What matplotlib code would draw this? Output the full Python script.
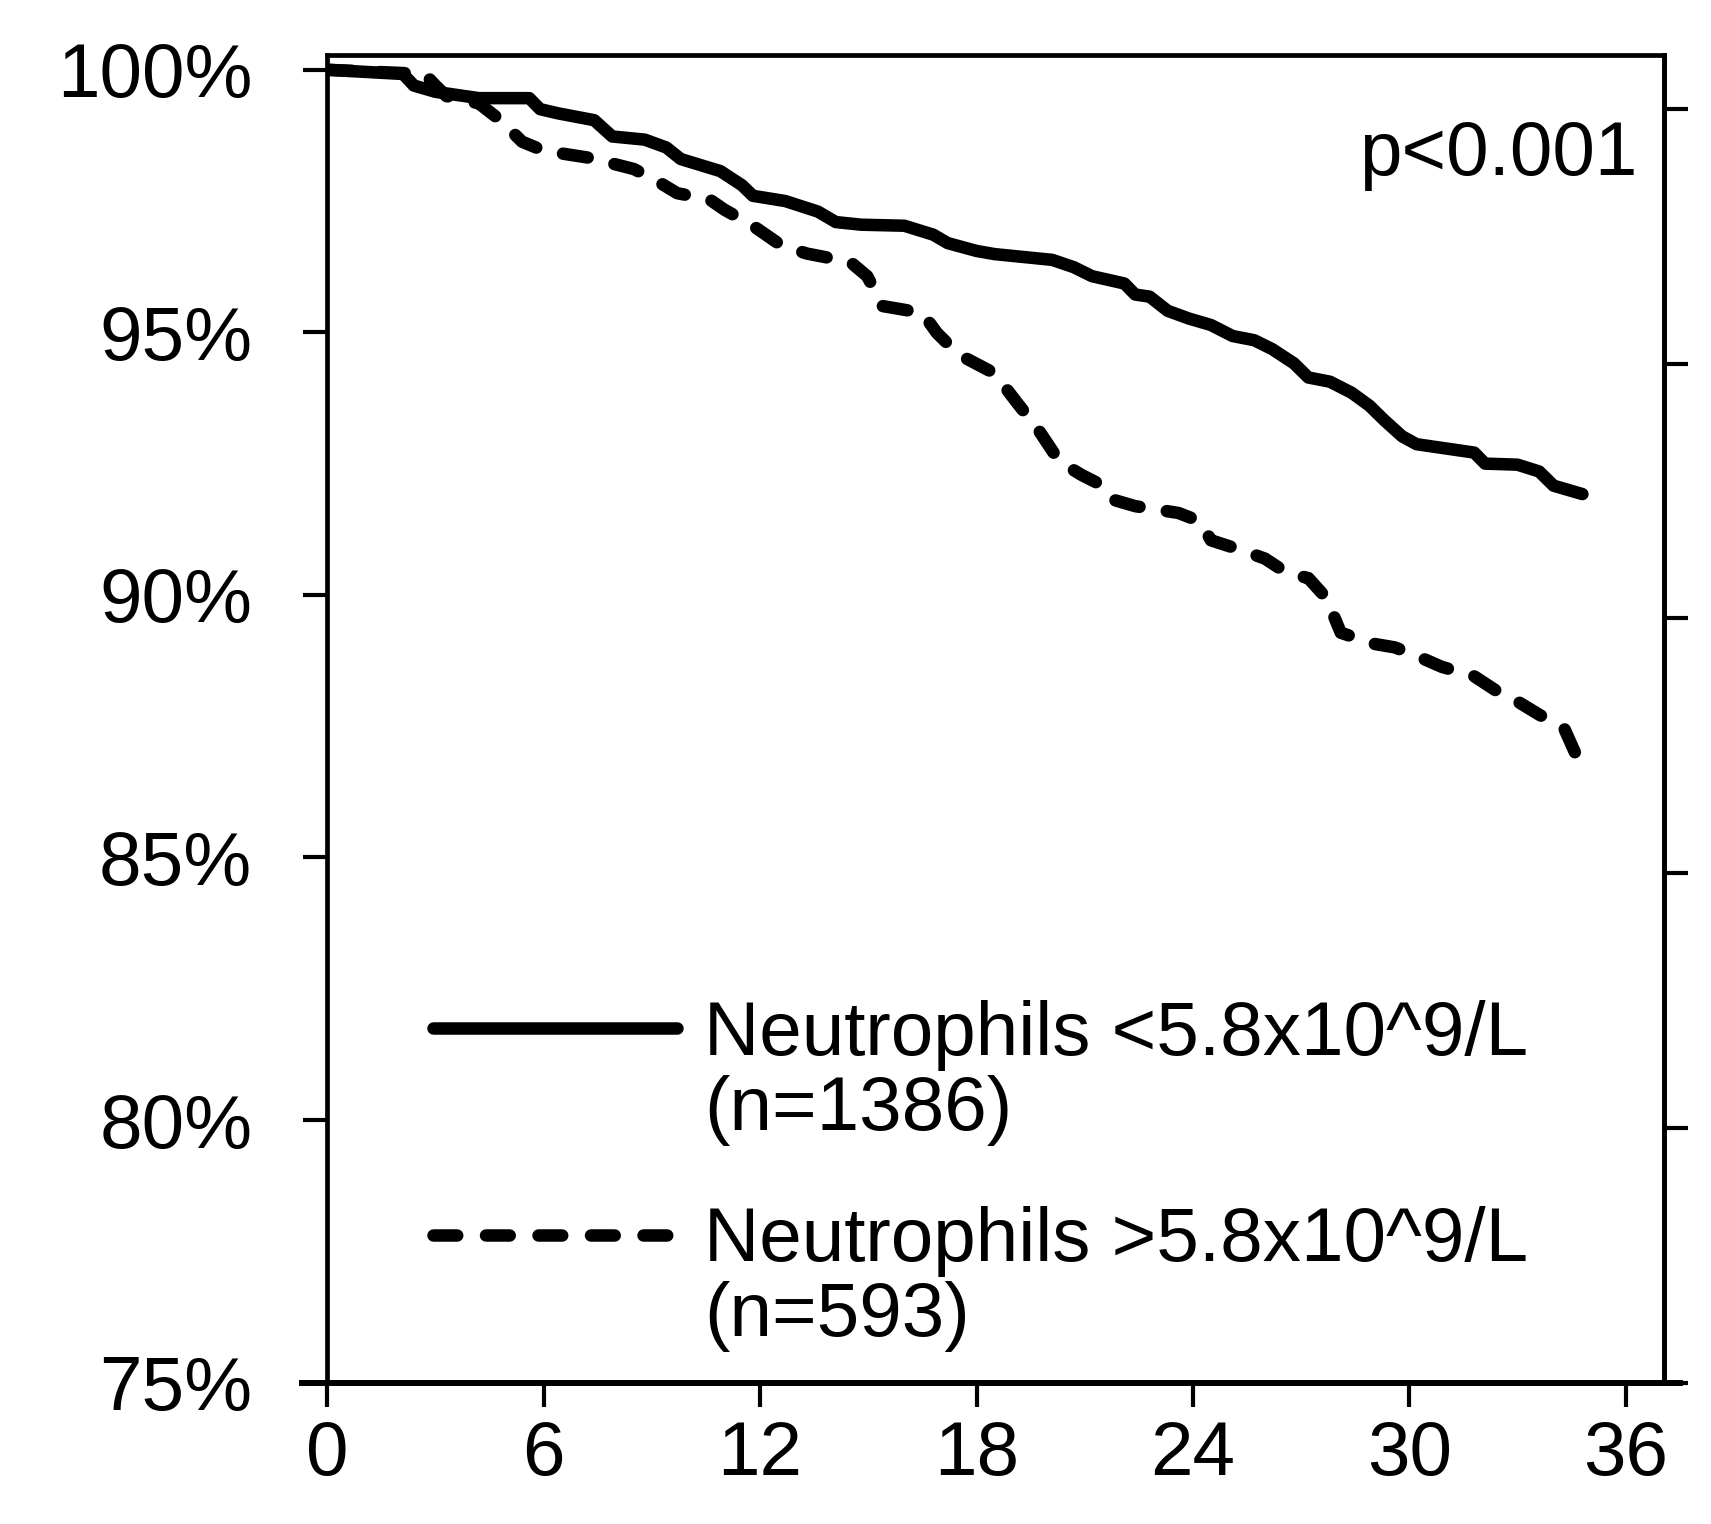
import matplotlib
matplotlib.use("Agg")
import matplotlib.pyplot as plt
from matplotlib.lines import Line2D

# survival curves (months, % event free)
months_low = [0, 2.1, 2.4, 3.0, 4.2, 5.6, 5.9, 6.4, 7.4, 7.9, 8.8, 9.4, 9.8, 10.9, 11.5, 11.8,
              12.7, 13.6, 14.1, 14.8, 16.0, 16.8, 17.2, 18.0, 18.5, 20.1, 20.7, 21.2, 22.1,
              22.4, 22.8, 23.3, 23.9, 24.5, 25.1, 25.7, 26.2, 26.8, 27.2, 27.8, 28.4, 28.9,
              29.3, 29.8, 30.2, 31.2, 31.8, 32.1, 33.0, 33.6, 34.0, 34.8]
surv_low = [100, 99.92, 99.7, 99.58, 99.46, 99.46, 99.25, 99.17, 99.04, 98.73, 98.67, 98.52,
            98.3, 98.07, 97.8, 97.6, 97.5, 97.3, 97.1, 97.05, 97.03, 96.86, 96.7, 96.55, 96.49,
            96.38, 96.24, 96.07, 95.93, 95.72, 95.68, 95.41, 95.26, 95.14, 94.93, 94.85, 94.68,
            94.41, 94.14, 94.06, 93.85, 93.6, 93.33, 93.02, 92.87, 92.77, 92.71, 92.5, 92.48,
            92.35, 92.08, 91.92]

months_high = [0, 2.7, 3.0, 3.3, 4.2, 4.8, 5.4, 6.0, 7.3, 8.5, 9.1, 9.7, 10.6, 11.0, 11.8,
               12.6, 13.3, 14.5, 14.97, 15.4, 16.5, 16.9, 17.5, 18.5, 19.1, 19.7, 20.3, 20.9,
               21.5, 21.8, 22.4, 23.6, 24.2, 24.5, 25.4, 26.0, 26.6, 27.2, 27.7, 28.1, 29.0,
               29.6, 30.2, 30.9, 31.8, 32.4, 33.0, 33.6, 34.3, 34.8]
surv_high = [100, 99.92, 99.7, 99.5, 99.36, 99.04, 98.63, 98.46, 98.32, 98.11, 97.9, 97.65,
             97.53, 97.34, 97.03, 96.65, 96.5, 96.34, 96.07, 95.5, 95.37, 94.99, 94.58, 94.22,
             93.68, 93.16, 92.54, 92.29, 92.08, 91.81, 91.69, 91.56, 91.4, 91.04, 90.84, 90.69,
             90.42, 90.32, 89.94, 89.28, 89.07, 89.0, 88.84, 88.63, 88.45, 88.18, 87.97, 87.72,
             87.45, 86.68]

x_ticks = [0, 6, 12, 18, 24, 30, 36]
y_ticks = [75, 80, 85, 90, 95, 100]
labels_low = ["Neutrophils <5.8x10^9/L", "(n=1386)"]
labels_high = ["Neutrophils >5.8x10^9/L", "(n=593)"]
p_text = "p<0.001"

plt.rcParams['font.family'] = ['Liberation Sans', 'DejaVu Sans']
fs = 55

fig = plt.figure(figsize=(17.11, 15.24), dpi=100)
ax = fig.add_axes([0.1913, 0.0928, 0.7812, 0.8714])

lw = 9
dash = (2.0, 2.2)
ax.plot(months_low, surv_low, color='black', lw=lw, solid_capstyle='round',
        solid_joinstyle='round')
ax.plot(months_high, surv_high, color='black', lw=lw, dashes=dash,
        dash_capstyle='round', dash_joinstyle='round')

ax.set_xlim(0, 37.06)
ax.set_ylim(75, 100.29)
ax.set_xticks(x_ticks)
ax.set_xticklabels([str(t) for t in x_ticks], fontsize=fs)
ax.set_yticks(y_ticks)
ax.set_yticklabels([f"{t}%" for t in y_ticks], fontsize=fs)
ax.tick_params(axis='y', direction='out', length=17, width=3, pad=37)
ax.tick_params(axis='x', direction='out', length=17, width=3, pad=10)
for s in ax.spines.values():
    s.set_linewidth(3.4)
ax.spines['bottom'].set_linewidth(4.3)
ax.spines['bottom'].set_bounds(-0.7, 37.5)

# right hand axis: ticks only
ax2 = ax.twinx()
ax2.set_ylim(0, 5.214)
ax2.set_yticks(range(6))
ax2.set_yticklabels([])
ax2.tick_params(axis='y', direction='out', length=17, width=3)
for s in ax2.spines.values():
    s.set_visible(False)
ax2.spines['right'].set_visible(True)
ax2.spines['right'].set_linewidth(3.4)

ax.text(0.98, 0.9096, p_text, transform=ax.transAxes, ha='right', va='baseline',
        fontsize=fs)

blank = Line2D([], [], color='none')
leg_kw = dict(loc='center left', frameon=False, fontsize=fs, handlelength=3.2,
              handletextpad=0.35, labelspacing=0.05, borderpad=0, borderaxespad=0)
leg1 = ax.legend([Line2D([], [], color='black', lw=lw, solid_capstyle='round'), blank],
                 labels_low, bbox_to_anchor=(0.079, 0.233), **leg_kw)
ax.add_artist(leg1)
ax.legend([Line2D([], [], color='black', lw=lw, dashes=(1.9, 2.3), dash_capstyle='round'),
           blank], labels_high, bbox_to_anchor=(0.079, 0.0777), **leg_kw)

fig.savefig("out.png", dpi=100)
